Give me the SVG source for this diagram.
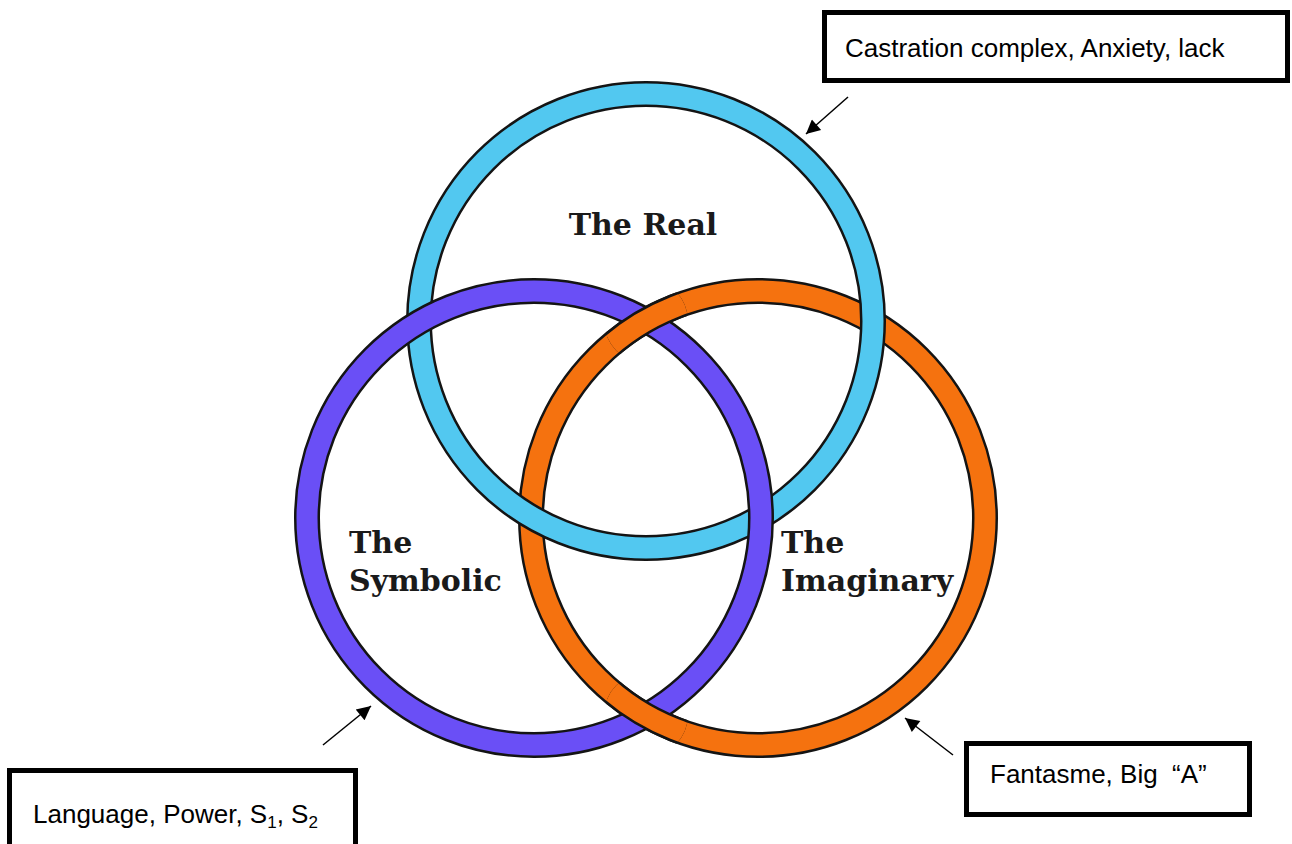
<svg xmlns="http://www.w3.org/2000/svg" width="1292" height="844" viewBox="0 0 1292 844">
<defs>
<style>
.ol{fill:none;stroke:#141414;stroke-width:26}
.real{fill:none;stroke:#52C8F0;stroke-width:21}
.sym{fill:none;stroke:#6A4FF6;stroke-width:21}
.img{fill:none;stroke:#F5720F;stroke-width:21}
.lbl{font-family:"DejaVu Serif","Liberation Serif",serif;font-weight:bold;font-size:30px;fill:#1a1a1a}
.box{fill:#fff;stroke:#000;stroke-width:5}
.bt{font-family:"Liberation Sans",Arial,sans-serif;font-size:26px;fill:#000}
.con{stroke:#000;stroke-width:1.5;fill:none;marker-end:url(#ah)}
</style>
<marker id="ah" viewBox="0 0 10 10" refX="10" refY="5" markerWidth="18" markerHeight="14" markerUnits="userSpaceOnUse" orient="auto">
<path d="M0,0 L10,5 L0,10 z" fill="#000"/>
</marker>
<clipPath id="overClip">
<circle cx="646" cy="321" r="42"/>
<circle cx="646" cy="715" r="42"/>
</clipPath>
</defs>
<rect width="1292" height="844" fill="#fff"/>
<g id="imaginary">
<circle class="ol" cx="758" cy="518" r="227"/>
<circle class="img" cx="758" cy="518" r="227"/>
<text class="lbl" x="781" y="553">The</text>
<text class="lbl" x="781" y="591">Imaginary</text>
</g>
<g id="real">
<circle class="ol" cx="646" cy="321" r="227"/>
<circle class="real" cx="646" cy="321" r="227"/>
<text class="lbl" x="643" y="235" text-anchor="middle">The Real</text>
</g>
<g id="symbolic">
<circle class="ol" cx="534" cy="518" r="227"/>
<circle class="sym" cx="534" cy="518" r="227"/>
<text class="lbl" x="349" y="553">The</text>
<text class="lbl" x="349" y="591">Symbolic</text>
</g>
<g id="imaginary-over" clip-path="url(#overClip)">
<circle class="ol" cx="758" cy="518" r="227"/>
<circle class="img" cx="758" cy="518" r="227"/>
</g>
<g id="connectors">
<line class="con" x1="848" y1="97" x2="806" y2="134"/>
<line class="con" x1="323" y1="745" x2="371" y2="706"/>
<line class="con" x1="953" y1="755" x2="905" y2="718"/>
</g>
<g id="box-real">
<rect class="box" x="824.5" y="12.5" width="463" height="68"/>
<text class="bt" x="845" y="57" font-size="27">Castration complex, Anxiety, lack</text>
</g>
<g id="box-symbolic">
<rect class="box" x="9.5" y="770.5" width="346" height="100"/>
<text class="bt" x="33" y="823">Language, Power, S<tspan font-size="17" dy="5">1</tspan><tspan dy="-5">, S</tspan><tspan font-size="17" dy="5">2</tspan></text>
</g>
<g id="box-imaginary">
<rect class="box" x="966.5" y="743.5" width="283" height="71"/>
<text class="bt" x="990" y="783">Fantasme, Big&#160; “A”</text>
</g>
</svg>
